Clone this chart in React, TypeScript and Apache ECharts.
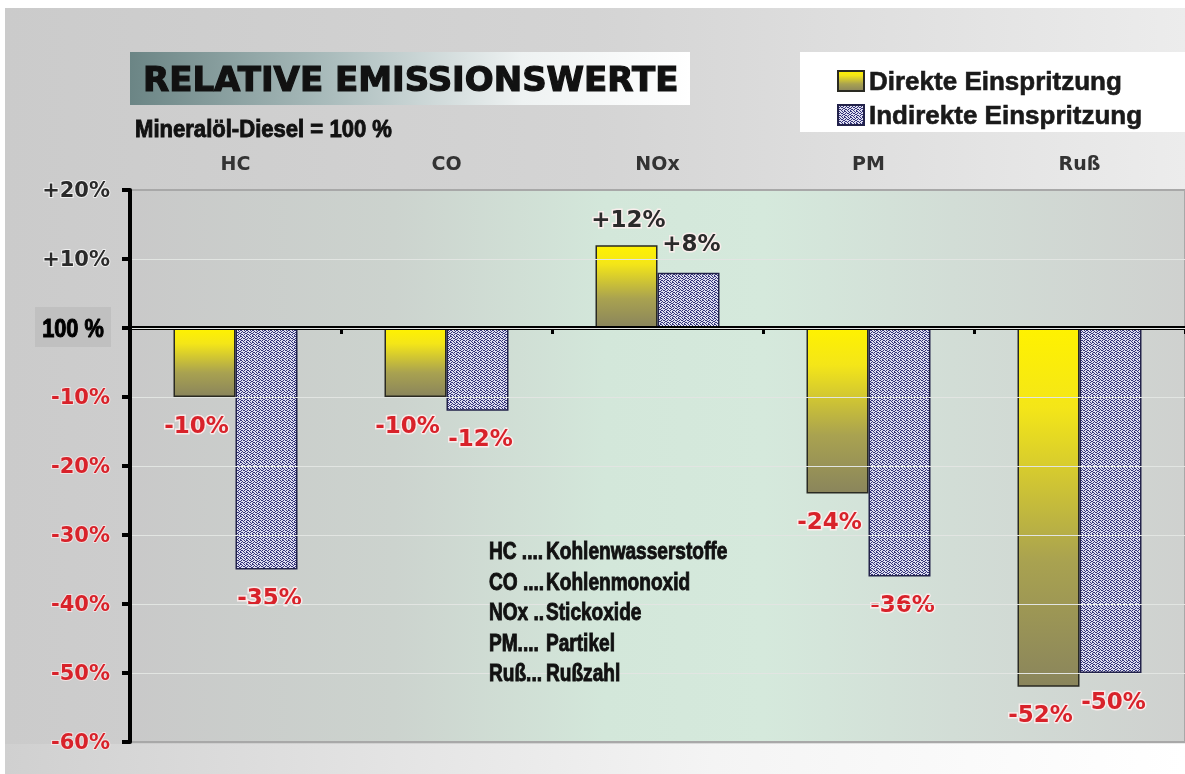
import React, { useEffect, useRef } from 'react';
import * as echarts from 'echarts';

const categories = ['HC', 'CO', 'NOx', 'PM', 'Ruß'];
const direkteValues = [-10, -10, 12, -24, -52];
const indirekteValues = [-35, -12, 8, -36, -50];
const seriesNames = ['Direkte Einspritzung', 'Indirekte Einspritzung'];
const yMin = -60;
const yMax = 20;
const yStep = 10;
const noteKeys = ['HC ....', 'CO ....', 'NOx ..', 'PM....', 'Ruß...'];
const noteNames = ['Kohlenwasserstoffe', 'Kohlenmonoxid', 'Stickoxide', 'Partikel', 'Rußzahl'];
const titleText = 'RELATIVE EMISSIONSWERTE';
const subtitleText = 'Mineralöl-Diesel = 100 %';
const baseLabel = '100 %';

const WIDE = "'DejaVu Sans', Verdana, sans-serif";
const LIB = "'Liberation Sans', Arial, sans-serif";
const RED = '#d8222a';

const PATTERN_ROWS = [
  '110010',
  '001001',
  '010110',
  '100001',
  '011010',
  '100100',
];

function makePattern(): HTMLCanvasElement {
  const c = document.createElement('canvas');
  c.width = 6;
  c.height = 6;
  const ctx = c.getContext('2d')!;
  ctx.fillStyle = '#dedef0';
  ctx.fillRect(0, 0, 6, 6);
  ctx.fillStyle = '#34347a';
  PATTERN_ROWS.forEach((row, y) => {
    for (let x = 0; x < row.length; x++) if (row[x] === '1') ctx.fillRect(x, y, 1, 1);
  });
  return c;
}

export default function App() {
  const ref = useRef<HTMLDivElement>(null);

  useEffect(() => {
    if (!ref.current) return;
    const chart = echarts.init(ref.current, undefined, { renderer: 'svg' });
    const pattern = makePattern();

    const yellow = new echarts.graphic.LinearGradient(0, 0, 0, 1, [
      { offset: 0, color: '#fff200' },
      { offset: 0.22, color: '#f4e618' },
      { offset: 0.65, color: '#a9a250' },
      { offset: 1, color: '#8a855c' },
    ]);

    const labelBase = {
      show: true,
      fontFamily: WIDE,
      fontWeight: 'bold',
      fontSize: 23,
      textBorderColor: 'rgba(255,238,238,0.85)',
      textBorderWidth: 3,
    };

    const fmt = (v: number) => (v > 0 ? '+' + v + '%' : v + '%');

    const buildData = (vals: number[], negOff: number[], posOff: number[]) =>
      vals.map((v) => ({
        value: v,
        label: {
          ...labelBase,
          position: v < 0 ? 'bottom' : 'top',
          offset: v < 0 ? negOff : posOff,
          color: v < 0 ? RED : '#2a2a2a',
          formatter: () => fmt(v),
        },
      }));

    const heavy = (fill: string, w: number) => ({ fill, stroke: fill, lineWidth: w });

    const graphics: any[] = [
      { type: 'rect', z: -100, shape: { x: 0, y: 0, width: 1185, height: 774 }, style: { fill: '#ffffff' } },
      {
        type: 'rect', z: -99, shape: { x: 5, y: 8, width: 1180, height: 736 },
        style: {
          fill: new echarts.graphic.LinearGradient(0, 0, 1, 0, [
            { offset: 0, color: '#cbcbcb' },
            { offset: 0.5, color: '#d4d4d4' },
            { offset: 1, color: '#ececec' },
          ]),
        },
      },
      {
        type: 'rect', z: -99, shape: { x: 5, y: 744, width: 1180, height: 30 },
        style: {
          fill: new echarts.graphic.LinearGradient(0, 0, 1, 0, [
            { offset: 0, color: '#d0d0d0' },
            { offset: 0.6, color: '#f4f4f4' },
            { offset: 1, color: '#ffffff' },
          ]),
        },
      },
      {
        type: 'rect', z: 10, shape: { x: 130, y: 52, width: 560, height: 53 },
        style: {
          fill: new echarts.graphic.LinearGradient(0, 0, 1, 0, [
            { offset: 0, color: '#6b8585' },
            { offset: 0.35, color: '#a9bbbb' },
            { offset: 0.7, color: '#eef2f2' },
            { offset: 1, color: '#ffffff' },
          ]),
        },
      },
      {
        type: 'text', z: 11, x: 143, y: 79,
        style: { text: titleText, ...heavy('#111', 1.2), font: `bold 34px ${WIDE}`, verticalAlign: 'middle' },
      },
      {
        type: 'text', z: 11, x: 135, y: 129, scaleX: 0.92,
        style: { text: subtitleText, ...heavy('#111', 0.9), font: `bold 24px ${LIB}`, verticalAlign: 'middle' },
      },
      { type: 'rect', z: 10, shape: { x: 800, y: 52, width: 385, height: 80 }, style: { fill: '#ffffff' } },
      { type: 'rect', z: 10, shape: { x: 35, y: 307, width: 76, height: 40 }, style: { fill: '#c0c0c0' } },
      {
        type: 'text', z: 11, x: 73, y: 328, scaleX: 0.87,
        style: { text: baseLabel, ...heavy('#000', 1), font: `bold 25px ${LIB}`, align: 'center', verticalAlign: 'middle' },
      },
    ];
    noteKeys.forEach((k, i) => {
      graphics.push({
        type: 'text', z: 11, x: 489, y: 551 + i * 30.5, scaleX: 0.83,
        style: { text: k, ...heavy('#111', 0.9), font: `bold 23px ${LIB}`, verticalAlign: 'middle' },
      });
      graphics.push({
        type: 'text', z: 11, x: 546, y: 551 + i * 30.5, scaleX: 0.83,
        style: { text: noteNames[i], ...heavy('#111', 0.9), font: `bold 23px ${LIB}`, verticalAlign: 'middle' },
      });
    });

    const splitColors = ['#a8a8a8'];
    for (let v = yMin + yStep; v < yMax; v += yStep) splitColors.push('#e2e5e2');
    splitColors.push('#a8a8a8');

    chart.setOption({
      animation: false,
      graphic: graphics,
      legend: {
        left: 832,
        top: 61,
        orient: 'vertical',
        icon: 'rect',
        itemWidth: 26,
        itemHeight: 20,
        itemGap: 4,
        data: seriesNames,
        textStyle: {
          fontFamily: LIB,
          fontWeight: 'bold',
          fontSize: 26,
          lineHeight: 30,
          color: '#1a1a1a',
          textBorderColor: '#1a1a1a',
          textBorderWidth: 0.6,
        },
        z: 12,
      },
      grid: {
        left: 130,
        right: -2,
        top: 190,
        bottom: 32,
        show: true,
        borderWidth: 2,
        borderColor: '#a8a8a8',
        backgroundColor: new echarts.graphic.LinearGradient(0, 0, 1, 0, [
          { offset: 0, color: '#c9c9c9' },
          { offset: 0.25, color: '#ccd3ce' },
          { offset: 0.45, color: '#d3e7da' },
          { offset: 0.6, color: '#d5e9dc' },
          { offset: 0.78, color: '#d2ddd6' },
          { offset: 1, color: '#cfd1cf' },
        ]),
      },
      xAxis: [
        {
          type: 'category',
          data: categories,
          position: 'bottom',
          axisLine: { show: true, onZero: true, lineStyle: { color: '#000', width: 4 } },
          axisTick: { show: true, length: 6, lineStyle: { color: '#000', width: 3 } },
          axisLabel: { show: false },
          splitLine: { show: false },
          z: 5,
        },
        {
          type: 'category',
          data: categories,
          position: 'top',
          axisLine: { show: false, onZero: false },
          axisTick: { show: false },
          axisLabel: {
            show: true,
            margin: 18,
            fontFamily: WIDE,
            fontWeight: 'bold',
            fontSize: 19,
            color: '#333',
          },
        },
      ],
      yAxis: {
        type: 'value',
        min: yMin,
        max: yMax,
        interval: yStep,
        axisLine: { show: true, onZero: false, lineStyle: { color: '#000', width: 4 } },
        axisTick: { show: true, length: 8, lineStyle: { color: '#000', width: 4 } },
        splitLine: { show: true, lineStyle: { color: splitColors, width: 1 } },
        axisLabel: {
          margin: 20,
          formatter: (v: number) => (v === 0 ? '' : v > 0 ? `{p|+${v}%}` : `{n|${v}%}`),
          rich: {
            p: {
              fontFamily: WIDE, fontWeight: 'bold', fontSize: 21, color: '#2a2a2a',
              textBorderColor: 'rgba(255,255,255,0.7)', textBorderWidth: 2,
            },
            n: {
              fontFamily: WIDE, fontWeight: 'bold', fontSize: 21, color: RED,
              textBorderColor: 'rgba(255,235,235,0.7)', textBorderWidth: 2,
            },
          },
        },
        z: 6,
      },
      series: [
        {
          name: seriesNames[0],
          type: 'bar',
          xAxisIndex: 0,
          barWidth: 62,
          barGap: '0%',
          itemStyle: { color: yellow, borderColor: '#2a2a22', borderWidth: 1.5 },
          data: buildData(direkteValues, [-8, 11], [2, -10]),
        },
        {
          name: seriesNames[1],
          type: 'bar',
          xAxisIndex: 0,
          barWidth: 62,
          barGap: '0%',
          itemStyle: {
            color: { image: pattern, repeat: 'repeat' },
            borderColor: '#22224a',
            borderWidth: 1.5,
          },
          data: buildData(indirekteValues, [3, 11], [3, -13]),
        },
      ],
    });

    return () => chart.dispose();
  }, []);

  return (
    <div
      ref={ref}
      style={{ position: 'fixed', left: 0, top: 0, width: 1185, height: 774 }}
    />
  );
}
